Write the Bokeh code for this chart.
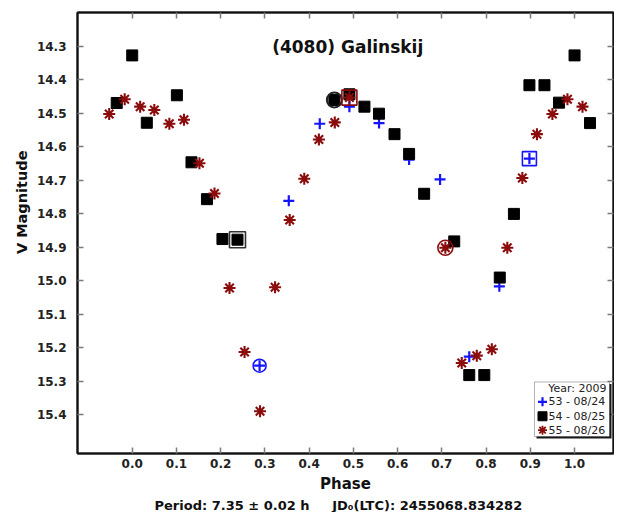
from bokeh.plotting import figure
from bokeh.models import (Range1d, FixedTicker, PrintfTickFormatter, LinearAxis,
                          Label, BoxAnnotation, Title)
from bokeh.embed import file_html
from bokeh.resources import INLINE

# ---------------- data ----------------
x_ticks = [0.0, 0.1, 0.2, 0.3, 0.4, 0.5, 0.6, 0.7, 0.8, 0.9, 1.0]
y_ticks = [14.3, 14.4, 14.5, 14.6, 14.7, 14.8, 14.9, 15.0, 15.1, 15.2, 15.3, 15.4]

# session 53 - 08/24 (blue plus)
s53_phase = [0.288, 0.354, 0.424, 0.491, 0.558, 0.626, 0.696, 0.762, 0.830, 0.898]
s53_mag = [15.254, 14.762, 14.532, 14.481, 14.530, 14.639, 14.698, 15.227, 15.017, 14.636]
s53_circle_idx = 0
s53_box_idx = 9

# session 54 - 08/25 (black squares)
s54_phase = [-0.035, 0.000, 0.033, 0.101, 0.134, 0.169, 0.204, 0.238, 0.457, 0.491,
             0.525, 0.558, 0.593, 0.626, 0.660, 0.728, 0.762, 0.796, 0.831, 0.863,
             0.898, 0.932, 0.965, 1.000, 1.035]
s54_mag = [14.470, 14.328, 14.529, 14.447, 14.647, 14.757, 14.876, 14.878, 14.461, 14.444,
           14.481, 14.502, 14.563, 14.622, 14.741, 14.883, 15.282, 15.282, 14.991, 14.801,
           14.417, 14.417, 14.469, 14.328, 14.530]
s54_box_idx = 7
s54_circle_idx = 8

# session 55 - 08/26 (dark red asterisks)
s55_phase = [-0.052, -0.017, 0.018, 0.050, 0.084, 0.117, 0.152, 0.186, 0.220, 0.254,
             0.289, 0.323, 0.356, 0.389, 0.422, 0.458, 0.491, 0.708, 0.745, 0.779,
             0.813, 0.848, 0.882, 0.915, 0.950, 0.984, 1.018]
s55_mag = [14.503, 14.459, 14.481, 14.491, 14.532, 14.520, 14.650, 14.740, 15.022, 15.213,
           15.390, 15.020, 14.819, 14.696, 14.579, 14.528, 14.454, 14.902, 15.246, 15.224,
           15.205, 14.902, 14.694, 14.563, 14.503, 14.459, 14.481]
s55_box_idx = 16
s55_circle_idx = 17

legend_labels = ["53 - 08/24", "54 - 08/25", "55 - 08/26"]
legend_title = "Year: 2009"
title_text = "(4080) Galinskij"
y_label = "V Magnitude"
x_label = "Phase"
NB = "\u00a0"
footer_text = "Period:" + NB + "7.35" + NB + "\u00b1" + NB + "0.02" + NB + "h" + NB * 5 + \
              "JD\u2080(LTC):" + NB + "2455068.834282"

# ---------------- layout / styling ----------------
FONT = "DejaVu Sans"
BLUE = "#1414ff"
BLACK = "#000000"
RED = "#8b0c0c"

W, H = 614, 512
BL, BR, BT, BB = 77, 1, 12, 56
X0, X1 = -0.1237, 1.0881
Y_BOTTOM, Y_TOP = 15.516, 14.2
FW, FH = W - BL - BR, H - BT - BB


def sx(px):
    """canvas pixel x -> data x"""
    return X0 + (px - BL) * (X1 - X0) / FW


def sy(py):
    """canvas pixel y -> data y (reversed magnitude axis)"""
    return Y_TOP + (py - BT) * (Y_BOTTOM - Y_TOP) / FH


p = figure(width=W, height=H, output_backend="svg", toolbar_location=None,
           x_range=Range1d(X0, X1), y_range=Range1d(Y_BOTTOM, Y_TOP),
           min_border_left=BL, min_border_right=BR, min_border_top=BT, min_border_bottom=BB,
           background_fill_color="white", border_fill_color="white")
p.grid.visible = False
p.outline_line_color = "#333333"
p.outline_line_width = 2


def style_axis(ax, ticks, show_labels):
    ax.ticker = FixedTicker(ticks=ticks)
    ax.formatter = PrintfTickFormatter(format="%.1f")
    ax.major_tick_in = 6
    ax.major_tick_out = 0
    ax.major_tick_line_color = "#7a7a7a"
    ax.major_tick_line_width = 1.5
    ax.minor_tick_line_color = None
    ax.axis_line_color = "#111111"
    ax.axis_line_width = 2
    if show_labels:
        ax.major_label_text_font = FONT
        ax.major_label_text_font_style = "bold"
        ax.major_label_text_font_size = "12px"
        ax.major_label_text_color = "#222222"
    else:
        ax.major_label_text_font_size = "0px"
        ax.major_label_text_color = None
        ax.major_label_standoff = 0


style_axis(p.xaxis[0], x_ticks, True)
style_axis(p.yaxis[0], y_ticks, True)
p.xaxis[0].major_label_standoff = 5
p.yaxis[0].major_label_standoff = 11
p.xaxis[0].axis_label = x_label
p.xaxis[0].axis_label_text_font = FONT
p.xaxis[0].axis_label_text_font_style = "bold"
p.xaxis[0].axis_label_text_font_size = "15px"
p.xaxis[0].axis_label_text_color = "#111111"
p.xaxis[0].axis_label_standoff = 4

top_ax = LinearAxis()
style_axis(top_ax, x_ticks, False)
p.add_layout(top_ax, "above")
right_ax = LinearAxis()
style_axis(right_ax, y_ticks, False)
p.add_layout(right_ax, "right")

# ---------------- points ----------------
style53 = dict(marker="cross", line_color=BLUE, line_width=2.2)
style54 = dict(marker="square", fill_color=BLACK, line_color=BLACK)
style55 = dict(marker="asterisk", line_color=RED, line_width=2.1)

p.scatter(s53_phase, s53_mag, size=11, **style53)
p.scatter(s54_phase, s54_mag, size=11, **style54)
p.scatter(s55_phase, s55_mag, size=12, **style55)

# highlighted (reference) points
p.scatter([s53_phase[s53_circle_idx]], [s53_mag[s53_circle_idx]], marker="circle", size=13,
          fill_color=None, line_color=BLUE, line_width=1.6)
p.scatter([s53_phase[s53_box_idx]], [s53_mag[s53_box_idx]], marker="square", size=14,
          fill_color=None, line_color=BLUE, line_width=1.6)
p.scatter([s54_phase[s54_box_idx]], [s54_mag[s54_box_idx]], marker="square", size=16,
          fill_color=None, line_color="#333333", line_width=1.6)
p.scatter([s54_phase[s54_circle_idx]], [s54_mag[s54_circle_idx]], marker="circle", size=15,
          fill_color=None, line_color="#222222", line_width=2)
p.scatter([s55_phase[s55_box_idx]], [s55_mag[s55_box_idx]], marker="square", size=15,
          fill_color=None, line_color=RED, line_width=1.6)
p.scatter([s55_phase[s55_circle_idx]], [s55_mag[s55_circle_idx]], marker="circle", size=15,
          fill_color=None, line_color=RED, line_width=1.6)

# ---------------- texts ----------------
p.add_layout(Label(x=0.4872, y=14.3028, text=title_text, text_font=FONT, text_font_style="bold",
                   text_font_size="17px", text_color="#111111", text_align="center",
                   text_baseline="alphabetic"))

ytitle = Title(text=y_label, align="right", offset=138, standoff=8,
               text_font=FONT, text_font_style="bold", text_font_size="14.5px",
               text_color="#111111")
p.add_layout(ytitle, "left")

footer = Title(text=footer_text, align="left", offset=77, standoff=0,
               text_font=FONT, text_font_style="bold", text_font_size="13px",
               text_color="#111111")
p.add_layout(footer, "below")

# ---------------- legend (drawn by hand, larger symbols) ----------------
LG_L, LG_R, LG_T, LG_B = 534, 609, 384, 439   # box, canvas pixels
SHADOW = 2
p.add_layout(BoxAnnotation(left=sx(LG_L + SHADOW), right=sx(LG_R + SHADOW),
                           top=sy(LG_T + SHADOW), bottom=sy(LG_B + SHADOW),
                           fill_color="black", fill_alpha=0.9, line_color=None))
p.add_layout(BoxAnnotation(left=sx(LG_L), right=sx(LG_R), top=sy(LG_T), bottom=sy(LG_B),
                           fill_color="white", fill_alpha=1, line_color="black", line_width=1))
p.add_layout(Label(x=sx(LG_R - 3), y=sy(LG_T + 7), text=legend_title, text_font=FONT,
                   text_font_size="11px", text_color="#222222", text_align="right",
                   text_baseline="middle"))
row_y = [LG_T + 20, LG_T + 34.5, LG_T + 48.5]
legend_styles = [style53, style54, dict(style55, line_width=1.8)]
for lab, st, ry in zip(legend_labels, legend_styles, row_y):
    p.scatter([sx(LG_L + 8)], [sy(ry)], size=9, level="overlay", **st)
    p.add_layout(Label(x=sx(LG_L + 14), y=sy(ry), text=lab, text_font=FONT,
                       text_font_size="11px", text_color="#222222", text_align="left",
                       text_baseline="middle"))

open("out.html", "w").write(file_html(p, INLINE))
